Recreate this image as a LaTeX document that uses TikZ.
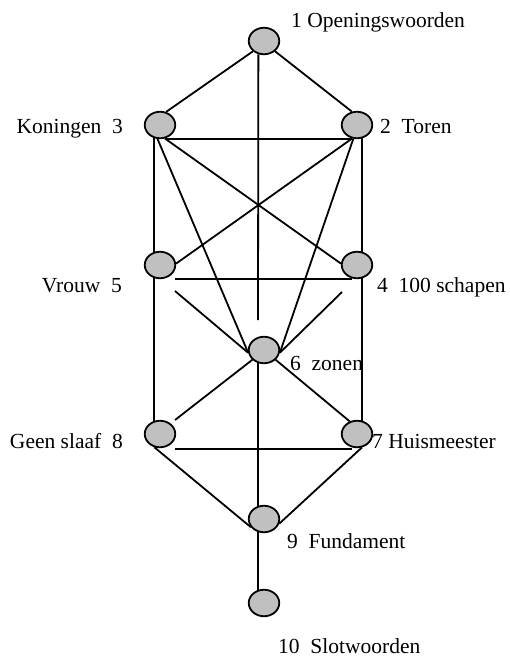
\documentclass[tikz,border=0pt]{standalone}
\usepackage{fontspec}
\setmainfont{Liberation Serif}
\usetikzlibrary{shapes.geometric}
\definecolor{knoopgrijs}{HTML}{C0C0C0}

\begin{document}
\begin{tikzpicture}[x=1pt, y=-1pt,
  every node/.style={font=\fontsize{21.5}{25}\selectfont},
  knoop/.style={ellipse, draw, fill=knoopgrijs, line width=1.8pt,
    minimum width=30.5pt, minimum height=26.5pt, inner sep=0pt},
  tekst/.style={inner sep=0pt},
  lijn/.style={line width=1.8pt}]
  \useasboundingbox (0,0) rectangle (509,659);
  % knopen
  \node[knoop] (k1) at (264,41) {};
  \node[knoop] (k3) at (160,125) {};
  \node[knoop] (k2) at (357,125) {};
  \node[knoop] (k5) at (160,265) {};
  \node[knoop] (k4) at (357,265) {};
  \node[knoop] (k6) at (264,350) {};
  \node[knoop] (k8) at (160,434) {};
  \node[knoop] (k7) at (357,434) {};
  \node[knoop] (k9) at (264,519) {};
  \node[knoop] (k10) at (264,603) {};
  % namen
  \node[tekst, anchor=base west] (t1) at (291,27) {1 Openingswoorden};
  \node[tekst, anchor=base east] (t3) at (123,133) {Koningen\ \ 3};
  \node[tekst, anchor=base west] (t2) at (380,133) {2\ \ Toren};
  \node[tekst, anchor=base east] (t5) at (122,292) {Vrouw\ \ 5};
  \node[tekst, anchor=base west] (t4) at (377,292) {4\ \ 100 schapen};
  \node[tekst, anchor=base west] (t6) at (290,370) {6\ \ zonen};
  \node[tekst, anchor=base east] (t8) at (123,448) {Geen slaaf\ \ 8};
  \node[tekst, anchor=base west] (t7) at (372,448) {7 Huismeester};
  \node[tekst, anchor=base west] (t9) at (287,548) {9\ \ Fundament};
  \node[tekst, anchor=base west] (t10) at (278,653) {10\ \ Slotwoorden};
  % losse eindpunten
  \coordinate (v1) at (258,320);
  \coordinate (v3) at (165,139);
  \coordinate (v5a) at (175,279);
  \coordinate (v5b) at (175,291);
  \coordinate (v4b) at (342,292);
  \coordinate (v8a) at (175,420);
  \coordinate (v8b) at (175,449);
  % bovenste driehoek
  \draw[lijn] (k1.223) -- (k3.65);
  \draw[lijn] (k1.317) -- (k2.111);
  \draw[lijn] (k1.247) -- (v1);
  \draw[lijn] (v3) -- (v3 -| k2.250);
  % zijkanten
  \draw[lijn] (k3.247) -- (k5.113);
  \draw[lijn] (k5.247) -- (k8.113);
  \draw[lijn] (k2.290) -- (k4.70);
  \draw[lijn] (k4.290) -- (k7.70);
  % diagonalen
  \draw[lijn] (k3.290) -- (k4.175);
  \draw[lijn] (k2.250) -- (k5.5);
  \draw[lijn] (k3.260) -- (k6.190);
  \draw[lijn] (k2.255) -- (k6.350);
  % midden
  \draw[lijn] (v5a) -- (v5a -| k4.250);
  \draw[lijn] (v5b) -- (k6.190);
  \draw[lijn] (v4b) -- (k6.350);
  \draw[lijn] (k6.220) -- (v8a);
  \draw[lijn] (k6.320) -- (k7.120);
  \draw[lijn] (v8b) -- (v8b -| k7.250);
  % onderkant
  \draw[lijn] (k6.247) -- (k9.113);
  \draw[lijn] (k8.247) -- (k9.212);
  \draw[lijn] (k7.290) -- (k9.343);
  \draw[lijn] (k9.247) -- (k10.113);
\end{tikzpicture}
\end{document}
